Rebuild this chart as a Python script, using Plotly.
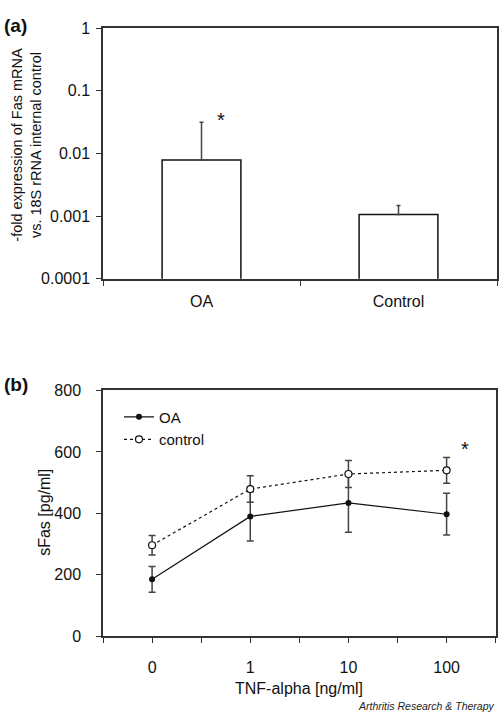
import plotly.graph_objects as go

# ---- Data panel (a)
cats_a = ["OA", "Control"]
fold_expr = [0.0079, 0.00106]
fold_err_up = [0.0237, 0.00042]

# ---- Data panel (b)
tnf_labels = ["0", "1", "10", "100"]
tnf_pos = [0, 1, 2, 3]
oa_sfas = [185, 390, 434, 397]
oa_err = [42, 80, 96, 68]
ctrl_sfas = [296, 479, 528, 540]
ctrl_err = [32, 43, 44, 42]

W, H = 500, 722
FONT = "Arial, Liberation Sans, Helvetica, sans-serif"
AX = "#333333"
FS = 16

def px_x(p):
    return p / W

def px_y(p):
    return 1 - p / H

fig = go.Figure()

fig.add_trace(go.Bar(
    x=cats_a, y=fold_expr, width=0.4,
    marker=dict(color="white", line=dict(color="#111111", width=1.5)),
    error_y=dict(type="data", symmetric=False, array=fold_err_up,
                 arrayminus=[0, 0], color="#444444", thickness=1.5, width=2),
    xaxis="x", yaxis="y", showlegend=False,
))

fig.add_trace(go.Scatter(
    x=tnf_pos, y=oa_sfas, name="OA", mode="lines+markers",
    line=dict(color="#111111", width=1.2),
    marker=dict(symbol="circle", size=6, color="#111111"),
    error_y=dict(type="data", array=oa_err, color="#444444", thickness=1.5, width=3.5),
    xaxis="x2", yaxis="y2",
))
fig.add_trace(go.Scatter(
    x=tnf_pos, y=ctrl_sfas, name="control", mode="lines+markers",
    line=dict(color="#111111", width=1.2, dash="dot"),
    marker=dict(symbol="circle", size=7, color="white",
                line=dict(color="#111111", width=1.2)),
    error_y=dict(type="data", array=ctrl_err, color="#444444", thickness=1.5, width=3.5),
    xaxis="x2", yaxis="y2",
))

axis_common = dict(showline=True, linecolor=AX, linewidth=1.5, mirror=True,
                   ticks="outside", tickcolor=AX, tickwidth=1.2, ticklen=5,
                   showgrid=False, zeroline=False,
                   tickfont=dict(family=FONT, size=FS, color="#111111"))

fig.update_layout(
    width=W, height=H,
    margin=dict(l=0, r=0, t=0, b=0),
    paper_bgcolor="white", plot_bgcolor="white",
    font=dict(family=FONT, color="#111111"),
    xaxis=dict(domain=[px_x(103), px_x(497)], anchor="y", type="category",
               tickson="boundaries", ticklabelstandoff=7, **axis_common),
    yaxis=dict(domain=[px_y(277.3), px_y(20.7)], anchor="x", type="log",
               range=[-4, 0],
               tickvals=[0.0001, 0.001, 0.01, 0.1, 1],
               ticktext=["0.0001", "0.001", "0.01", "0.1", "1"],
               ticklabelstandoff=3, **axis_common),
    xaxis2=dict(domain=[px_x(103), px_x(495.7)], anchor="y2",
                range=[-0.5, 3.5],
                tickvals=[-0.5, 0, 0.5, 1, 1.5, 2, 2.5, 3, 3.5],
                ticktext=["", tnf_labels[0], "", tnf_labels[1], "",
                          tnf_labels[2], "", tnf_labels[3], ""],
                ticklabelstandoff=11, **axis_common),
    yaxis2=dict(domain=[px_y(643.3), px_y(391.7)], anchor="x2",
                range=[0, 800], tickvals=[0, 200, 400, 600, 800],
                ticklabelstandoff=12, **axis_common),
    legend=dict(x=px_x(119), y=px_y(402), xanchor="left", yanchor="top",
                bgcolor="rgba(0,0,0,0)", font=dict(family=FONT, size=15),
                tracegroupgap=0, itemwidth=30),
    bargap=0.6,
)

ann = []
ann.append(dict(text="<b>(a)</b>", x=px_x(2), y=px_y(18), xref="paper", yref="paper",
                xanchor="left", yanchor="middle", showarrow=False,
                font=dict(family=FONT, size=19)))
ann.append(dict(text="<b>(b)</b>", x=px_x(2), y=px_y(386), xref="paper", yref="paper",
                xanchor="left", yanchor="middle", showarrow=False,
                font=dict(family=FONT, size=19)))
ann.append(dict(text="-fold expression of Fas mRNA<br>vs. 18S rRNA internal control",
                x=px_x(27), y=px_y(140), xref="paper", yref="paper",
                xanchor="center", yanchor="middle", textangle=-90, showarrow=False,
                font=dict(family=FONT, size=14.5)))
ann.append(dict(text="sFas [pg/ml]", x=px_x(45), y=px_y(517), xref="paper", yref="paper",
                xanchor="center", yanchor="middle", textangle=-90, showarrow=False,
                font=dict(family=FONT, size=FS)))
ann.append(dict(text="TNF-alpha [ng/ml]", x=px_x(299), y=px_y(697), xref="paper", yref="paper",
                xanchor="center", yanchor="middle", showarrow=False,
                font=dict(family=FONT, size=FS)))
ann.append(dict(text="<i>Arthritis Research &amp; Therapy</i>", x=px_x(497), y=px_y(715),
                xref="paper", yref="paper", xanchor="right", yanchor="middle",
                showarrow=False, font=dict(family=FONT, size=10.5, color="#222222")))
ann.append(dict(text="*", x=0.1, y=-1.47, xref="x", yref="y", showarrow=False,
                xanchor="center", yanchor="middle", font=dict(family=FONT, size=20)))
ann.append(dict(text="*", x=3.19, y=610, xref="x2", yref="y2", showarrow=False,
                xanchor="center", yanchor="middle", font=dict(family=FONT, size=20)))
fig.update_layout(annotations=ann)

fig.write_html("out.html", config={"displayModeBar": False},
               post_script="document.body.style.margin='0';")
